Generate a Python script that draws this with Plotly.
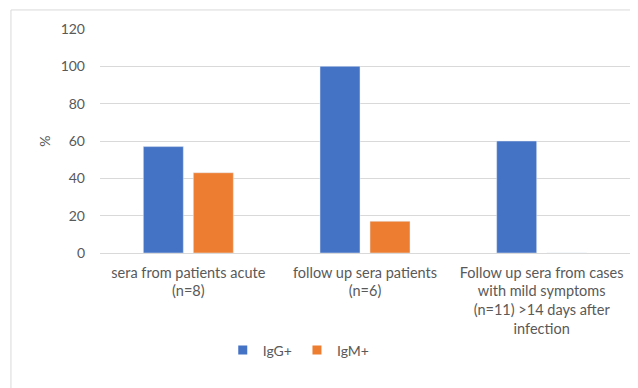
import plotly.graph_objects as go

categories = [
    "sera from patients acute<br>(n=8)",
    "follow up sera patients<br>(n=6)",
    "Follow up sera from cases<br>with mild symptoms<br>(n=11) >14 days after<br>infection",
]
igg_values = [57, 100, 60]
igm_values = [43, 17, 0]
y_ticks = [0, 20, 40, 60, 80, 100, 120]
series_names = ["IgG+", "IgM+"]
series_colors = ["#4472C4", "#ED7D31"]

FONT = "Lato"
GRAY = "#595959"

fig = go.Figure()
for name, vals, col in zip(series_names, [igg_values, igm_values], series_colors):
    fig.add_trace(go.Bar(name=name, x=categories, y=vals, marker_color=col, showlegend=False))
# legend-only square markers
for name, col in zip(series_names, series_colors):
    fig.add_trace(go.Scatter(name=name, x=[None], y=[None], mode="markers",
                             marker=dict(symbol="square", size=9, color=col)))

fig.update_layout(
    width=638, height=388,
    margin=dict(l=92, r=16, t=21, b=143, autoexpand=False),
    paper_bgcolor="white", plot_bgcolor="white",
    barmode="group", bargap=0.434, bargroupgap=0.2,
    font=dict(family=FONT, size=14, color=GRAY),
    showlegend=True,
    legend=dict(orientation="h", x=0.375, xanchor="center", y=-0.435, yanchor="middle",
                font=dict(size=14, color=GRAY), itemwidth=30, traceorder="normal",
                tracegroupgap=0),
    shapes=[dict(type="rect", xref="paper", yref="paper",
                 x0=-0.168, x1=1.1, y0=1.085, y1=-0.7,
                 line=dict(color="#d9d9d9", width=1), fillcolor="rgba(0,0,0,0)", layer="below")],
)
fig.update_xaxes(showgrid=False, showline=False, ticks="", automargin=False,
                 ticklabelstandoff=9,
                 tickfont=dict(size=14.5, color=GRAY), tickangle=0)
fig.update_yaxes(range=[0, 120], tickvals=y_ticks, showgrid=True, gridcolor="#d9d9d9",
                 zeroline=True, zerolinecolor="#d9d9d9", zerolinewidth=1, automargin=False,
                 showline=False, ticks="", ticklabelstandoff=14,
                 tickfont=dict(size=14, color=GRAY),
                 title=dict(text="%", font=dict(size=14, color=GRAY), standoff=6))

fig.write_html("out.html")
